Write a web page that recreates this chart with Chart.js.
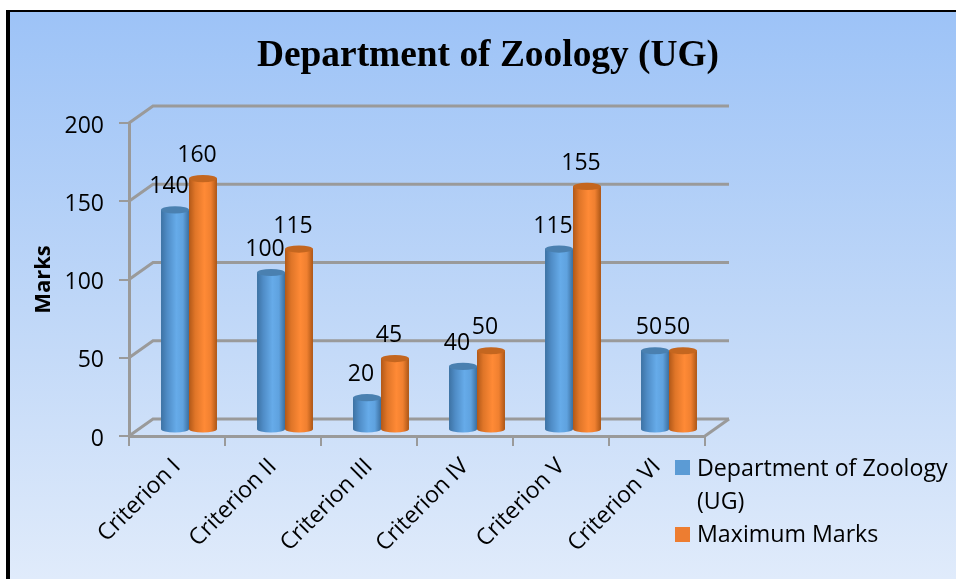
<!DOCTYPE html>
<html>
<head>
<meta charset="utf-8">
<style>
html,body{margin:0;padding:0;background:#fff;width:956px;height:579px;overflow:hidden}
#frame{position:absolute;left:6px;top:10px;width:950px;height:569px;box-sizing:border-box;border-left:4px solid #000;border-top:2px solid #000;background:linear-gradient(180deg,#9dc3f7 0%,#c4daf8 60%,#e0ebfb 100%)}
canvas{position:absolute;left:0;top:0}
</style>
<script src="https://cdn.jsdelivr.net/npm/chart.js@4"></script>
</head>
<body>
<div id="frame"></div>
<canvas id="c" width="956" height="579"></canvas>
<script>
const categories = ["Criterion I","Criterion II","Criterion III","Criterion IV","Criterion V","Criterion VI"];
const zoologyMarks = [140,100,20,40,115,50];
const maximumMarks = [160,115,45,50,155,50];
const yTicks = [0,50,100,150,200];
const chartTitle = "Department of Zoology (UG)";
const axisTitle = "Marks";
const legendLines = [["Department of Zoology","(UG)"],["Maximum Marks"]];

const FONT = '"Open Sans"';
const GRID = '#9a9a9a';
const DX = 12, DY = -7, WALLX = 24, WALLY = -17, RY = 3.6;
const ramps = [
  ['#3d72a3','#4f8cc6','#66abe9','#5fa2df','#3c6f9f'],
  ['#b15818','#df7528','#ff8a36','#f08030','#ac5616']
];
const caps = ['#4a80b0','#c4661f'];
const CAT_PCT = 0.583;

function barGradient(ctx, x0, x1, i){
  const g = ctx.createLinearGradient(x0,0,x1,0);
  ramps[i].forEach((col,k)=>g.addColorStop([0,0.22,0.55,0.78,1][k],col));
  return g;
}
function scriptFill(c){
  const xs = c.chart.scales.x;
  if(!xs || !Number.isFinite(xs.width)) return ramps[c.datasetIndex][2];
  const cat = xs.getPixelForValue(c.dataIndex);
  const w = (xs.width/categories.length)*CAT_PCT/2;
  if(!Number.isFinite(cat) || !Number.isFinite(w)) return ramps[c.datasetIndex][2];
  const x0 = c.datasetIndex===0 ? cat-w : cat;
  return barGradient(c.chart.ctx,x0,x0+w,c.datasetIndex);
}

const look3d = {
  id:'look3d',
  beforeDatasetsDraw(chart){
    const {ctx,chartArea:a,scales:{y}} = chart;
    ctx.save();
    ctx.strokeStyle = GRID; ctx.lineWidth = 3;
    yTicks.forEach(v=>{
      const py = y.getPixelForValue(v);
      ctx.beginPath();
      ctx.moveTo(a.left,py);
      ctx.lineTo(a.left+WALLX,py+WALLY);
      ctx.lineTo(a.right+WALLX,py+WALLY);
      ctx.stroke();
    });
    const py0 = y.getPixelForValue(0);
    ctx.beginPath();
    ctx.moveTo(a.right,py0);
    ctx.lineTo(a.right+WALLX,py0+WALLY);
    ctx.stroke();
    ctx.restore();
    ctx.save();
    ctx.translate(DX,DY);
  },
  afterDatasetsDraw(chart){
    const {ctx,scales:{y}} = chart;
    const base = y.getPixelForValue(0);
    chart.data.datasets.forEach((ds,i)=>{
      chart.getDatasetMeta(i).data.forEach(bar=>{
        const hw = bar.width/2;
        ctx.fillStyle = barGradient(ctx,bar.x-hw,bar.x+hw,i);
        ctx.beginPath();
        ctx.rect(bar.x-hw,base-2,hw*2,2.5);
        ctx.ellipse(bar.x,base,hw,RY,0,0,Math.PI);
        ctx.fill();
        ctx.fillStyle = caps[i];
        ctx.beginPath();
        ctx.ellipse(bar.x,bar.y,hw,RY,0,0,Math.PI*2);
        ctx.fill();
      });
    });
    ctx.restore();
    ctx.save();
    ctx.fillStyle='#000';
    ctx.font = '23px '+FONT;
    ctx.textAlign='center'; ctx.textBaseline='middle';
    chart.data.datasets.forEach((ds,i)=>{
      chart.getDatasetMeta(i).data.forEach((bar,k)=>{
        ctx.fillText(String(ds.data[k]),bar.x+DX-6,bar.y+DY-23);
      });
    });
    ctx.restore();
  },
  afterDraw(chart){
    const {ctx} = chart;
    ctx.save();
    ctx.fillStyle='#000';
    ctx.font='bold 37.4px "Liberation Serif"';
    ctx.textAlign='center'; ctx.textBaseline='middle';
    ctx.fillText(chartTitle,488,56);
    ctx.font='23.2px '+FONT;
    ctx.textAlign='left';
    const sw=[['#5b9bd5',460],['#ed7d31',527]];
    sw.forEach(([col,yy])=>{ctx.fillStyle=col;ctx.fillRect(675,yy,15,15);});
    ctx.fillStyle='#000';
    ctx.fillText(legendLines[0][0],697,469);
    ctx.fillText(legendLines[0][1],697,502);
    ctx.fillText(legendLines[1][0],697,535);
    ctx.restore();
  }
};

new Chart(document.getElementById('c'),{
  type:'bar',
  data:{
    labels:categories,
    datasets:[
      {label:legendLines[0].join(' '),data:zoologyMarks,backgroundColor:scriptFill,borderWidth:0},
      {label:legendLines[1][0],data:maximumMarks,backgroundColor:scriptFill,borderWidth:0}
    ]
  },
  plugins:[look3d],
  options:{
    responsive:false,
    animation:false,
    layout:{padding:{top:123,right:251,left:0,bottom:0}},
    categoryPercentage:CAT_PCT,
    barPercentage:1,
    plugins:{legend:{display:false},title:{display:false},tooltip:{enabled:false}},
    scales:{
      x:{
        afterFit(s){s.height=143;},
        grid:{display:true,drawOnChartArea:false,color:GRID,lineWidth:2,tickLength:10},
        border:{color:GRID,width:3},
        ticks:{color:'#000',font:{family:'"Open Sans"',size:23},maxRotation:45,minRotation:45,autoSkip:false,padding:7,labelOffset:0}
      },
      y:{
        min:0,max:200,
        afterFit(s){s.width=129;},
        afterBuildTicks(s){s.ticks=yTicks.map(v=>({value:v}));},
        grid:{display:true,drawOnChartArea:false,color:GRID,lineWidth:2,tickLength:10},
        border:{color:GRID,width:3},
        title:{display:true,text:axisTitle,color:'#000',font:{family:'"Open Sans"',size:22,weight:'bold'},padding:{top:31,bottom:0}},
        ticks:{color:'#000',font:{family:'"Open Sans"',size:23},padding:15,labelOffset:3}
      }
    }
  }
});
</script>
</body>
</html>
